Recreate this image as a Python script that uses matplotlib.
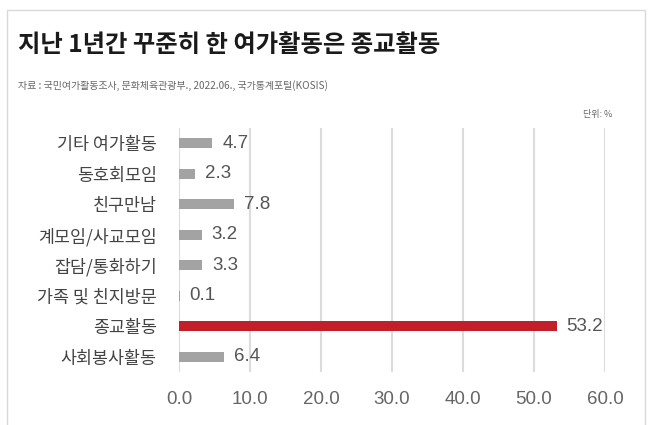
import matplotlib
matplotlib.use("Agg")
import matplotlib.pyplot as plt
from matplotlib.patches import Rectangle

plt.rcParams['font.family'] = ['Noto Sans CJK KR', 'DejaVu Sans']

categories = ["기타 여가활동", "동호회모임", "친구만남", "계모임/사교모임", "잡담/통화하기",
              "가족 및 친지방문", "종교활동", "사회봉사활동"]
values = [4.7, 2.3, 7.8, 3.2, 3.3, 0.1, 53.2, 6.4]
highlight = "종교활동"
xticks = [0, 10, 20, 30, 40, 50, 60]

W, H = 649, 425
fig = plt.figure(figsize=(W/100, H/100), dpi=100)
fig.patch.set_facecolor('white')

# card border
fig.patches.append(Rectangle((7/W, -0.05), (645-7)/W, 1.05 - 10/H,
                             transform=fig.transFigure, fill=False,
                             edgecolor='#d9d9d9', linewidth=1.0))

ax = fig.add_axes([179/W, 1-372/H, (605-179)/W, (372-128)/H])
pos = list(range(len(categories)))
colors = ['#c21f2b' if c == highlight else '#a3a3a3' for c in categories]
ax.barh(pos, values, height=0.33, color=colors, zorder=3)
num_font = ['Liberation Sans', 'DejaVu Sans']
for p, v in zip(pos, values):
    ax.text(v + 1.4, p, f"{v:.1f}", va='center', ha='left', fontsize=13.5,
            color='#555555', zorder=4, family=num_font)

ax.set_xlim(0, 60)
ax.set_ylim(7.5, -0.5)
ax.set_yticks(pos)
ax.set_yticklabels(categories, fontsize=12.5, color='#444444', fontweight='light')
ax.set_xticks(xticks)
ax.set_xticklabels([f"{t:.1f}" for t in xticks], fontsize=13.5, color='#666666',
                   family=num_font)
ax.tick_params(axis='both', length=0)
ax.tick_params(axis='y', pad=16)
ax.tick_params(axis='x', pad=14)
ax.grid(axis='x', color='#dcdcdc', linewidth=1.5, zorder=0)
for s in ax.spines.values():
    s.set_visible(False)

fig.text(18/W, 1-45/H, "지난 1년간 꾸준히 한 여가활동은 종교활동", fontsize=17.5,
         fontweight='bold', color='#1a1a1a', va='center', ha='left')
fig.text(18/W, 1-86/H, "자료 : 국민여가활동조사, 문화체육관광부., 2022.06., 국가통계포털(KOSIS)",
         fontsize=7.2, color='#666666', va='center', ha='left')
fig.text(612/W, 1-115/H, "단위: %", fontsize=6.5, color='#666666', va='center', ha='right')

fig.savefig("out.png", dpi=100, facecolor='white')
